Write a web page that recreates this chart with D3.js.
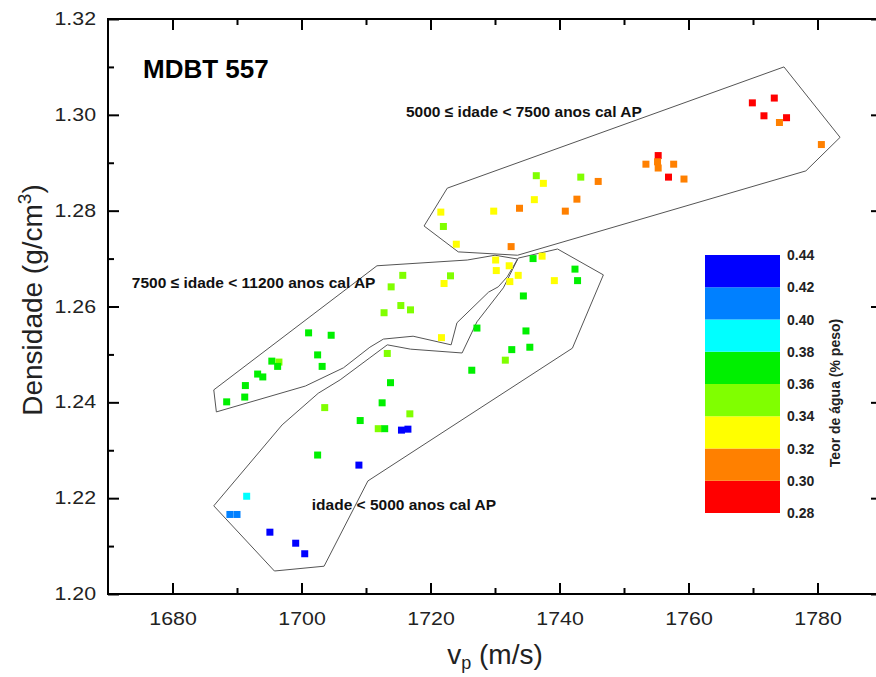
<!DOCTYPE html>
<html>
<head>
<meta charset="utf-8">
<script src="https://cdn.jsdelivr.net/npm/d3@7"></script>
<style>
  body { margin: 0; background: #fff; }
  svg { font-family: "Liberation Sans", Arial, sans-serif; display: block; }
</style>
</head>
<body>
<div id="chart"></div>
<script>
// velocidade (m/s), densidade (g/cm3), teor de agua
var vp = [1769.9, 1773.3, 1771.7, 1775.2, 1774.1, 1780.6, 1755.3, 1755.2, 1753.4, 1755.3,
          1757.7, 1756.9, 1759.3, 1736.4, 1737.5, 1743.3, 1746.0, 1736.1, 1742.7, 1733.8,
          1740.9, 1721.6, 1729.8, 1722.0, 1724.0, 1732.5, 1735.9, 1737.3, 1730.1, 1732.2,
          1742.4, 1730.2, 1733.6, 1732.3, 1739.2, 1742.8, 1715.7, 1723.1, 1722.1, 1713.9,
          1715.4, 1716.9, 1712.8, 1734.4, 1721.7, 1727.2, 1734.8, 1735.4, 1732.6, 1731.6,
          1713.3, 1726.4, 1713.8, 1712.5, 1716.8, 1711.9, 1712.9, 1715.5, 1716.5, 1701.1,
          1704.6, 1702.5, 1703.2, 1695.4, 1696.5, 1696.3, 1693.2, 1694.0, 1691.3, 1691.2,
          1688.4, 1703.6, 1709.1, 1702.5, 1708.9, 1691.5, 1688.9, 1690.0, 1695.1, 1699.1,
          1700.5];
var dens = [1.3025, 1.3035, 1.2998, 1.2994, 1.2984, 1.2938, 1.2915, 1.2902, 1.2897, 1.2889,
            1.2897, 1.2870, 1.2866, 1.2873, 1.2857, 1.2870, 1.2861, 1.2823, 1.2824, 1.2805,
            1.2799, 1.2797, 1.2799, 1.2767, 1.2730, 1.2725, 1.2700, 1.2705, 1.2697, 1.2685,
            1.2678, 1.2675, 1.2665, 1.2652, 1.2654, 1.2654, 1.2665, 1.2664, 1.2648, 1.2641,
            1.2602, 1.2593, 1.2587, 1.2622, 1.2535, 1.2555, 1.2549, 1.2515, 1.2510, 1.2488,
            1.2502, 1.2467, 1.2441, 1.2399, 1.2376, 1.2345, 1.2345, 1.2342, 1.2344, 1.2545,
            1.2540, 1.2499, 1.2475, 1.2486, 1.2484, 1.2475, 1.2459, 1.2453, 1.2435, 1.2411,
            1.2401, 1.2389, 1.2362, 1.2290, 1.2269, 1.2204, 1.2166, 1.2166, 1.2129, 1.2106,
            1.2084];
var teor = [0.29, 0.29, 0.29, 0.29, 0.31, 0.31, 0.29, 0.31, 0.31, 0.31,
            0.31, 0.29, 0.31, 0.35, 0.33, 0.35, 0.31, 0.33, 0.31, 0.31,
            0.31, 0.33, 0.33, 0.35, 0.33, 0.31, 0.37, 0.33, 0.33, 0.33,
            0.37, 0.33, 0.33, 0.33, 0.33, 0.37, 0.35, 0.35, 0.33, 0.35,
            0.35, 0.35, 0.35, 0.37, 0.33, 0.37, 0.37, 0.37, 0.37, 0.35,
            0.35, 0.37, 0.37, 0.37, 0.35, 0.35, 0.37, 0.43, 0.43, 0.37,
            0.37, 0.37, 0.37, 0.37, 0.35, 0.37, 0.37, 0.37, 0.37, 0.37,
            0.37, 0.35, 0.37, 0.37, 0.43, 0.39, 0.41, 0.41, 0.43, 0.43,
            0.43];

// contornos dos grupos de idade
var polyRecente = [[1686.4,1.2184],[1695.8,1.2048],[1703.5,1.2058],[1710.3,1.2236],[1742.0,1.2513],
                   [1746.8,1.2666],[1739.7,1.2720],[1733.6,1.2701],[1731.3,1.2639],[1727.2,1.2568],
                   [1724.9,1.2503],[1716.9,1.2511],[1713.3,1.2520],[1710.6,1.2493],[1706.0,1.2447],
                   [1702.6,1.2419],[1697.0,1.2353]];
var polyMedio = [[1686.4,1.2426],[1686.8,1.2380],[1700.6,1.2434],[1706.5,1.2472],[1710.6,1.2515],
                 [1712.7,1.2532],[1717.3,1.2538],[1723.2,1.2520],[1724.1,1.2566],[1729.0,1.2630],
                 [1730.5,1.2641],[1731.9,1.2662],[1733.5,1.2699],[1730.0,1.2707],[1725.7,1.2697],
                 [1711.7,1.2685]];
var polyAntigo = [[1722.6,1.2847],[1719.0,1.2768],[1724.3,1.2714],[1733.5,1.2707],[1778.2,1.2883],
                  [1783.5,1.2953],[1774.8,1.3100]];

var binEdges = [0.28, 0.30, 0.32, 0.34, 0.36, 0.38, 0.40, 0.42, 0.44];
var binColors = ["#ff0000", "#ff8000", "#ffff00", "#80ff00", "#00f000", "#00ffff", "#0080ff", "#0000ff"];

var margin = {top: 19, left: 108},
    width = 774,
    height = 575;

var svg = d3.select("#chart")
    .append("svg")
    .attr("width", 876)
    .attr("height", 677);

var g = svg.append("g")
    .attr("transform", "translate(" + margin.left + "," + margin.top + ")");

var x = d3.scaleLinear().domain([1670, 1790]).range([0, width]);
var y = d3.scaleLinear().domain([1.20, 1.32]).range([height, 0]);
var color = d3.scaleQuantize().domain([0.28, 0.44]).range(binColors);

// poligonos
var line = d3.line()
    .x(function(d) { return x(d[0]); })
    .y(function(d) { return y(d[1]); })
    .curve(d3.curveLinearClosed);

[polyRecente, polyMedio, polyAntigo].forEach(function(p) {
    g.append("path")
        .attr("d", line(p))
        .attr("fill", "none")
        .attr("stroke", "#555")
        .attr("stroke-width", 1);
});

// pontos
var pts = vp.map(function(v, i) { return {vp: v, dens: dens[i], teor: teor[i]}; });
var s = 7;
g.selectAll("rect.pt")
    .data(pts)
    .enter()
    .append("rect")
    .attr("class", "pt")
    .attr("x", function(d) { return x(d.vp) - s / 2; })
    .attr("y", function(d) { return y(d.dens) - s / 2; })
    .attr("width", s)
    .attr("height", s)
    .attr("fill", function(d) { return color(d.teor); });

// eixos com marcas para dentro
var xMajor = d3.range(1680, 1781, 20),
    xMinor = d3.range(1690, 1791, 20),
    yMajor = d3.range(0, 7).map(function(i) { return +(1.20 + i * 0.02).toFixed(2); }),
    yMinor = d3.range(0, 6).map(function(i) { return +(1.21 + i * 0.02).toFixed(2); });

var stretch = 1.22;

function styleAxis(sel) {
    sel.select(".domain").remove();
    sel.selectAll("line").attr("stroke", "#000").attr("stroke-width", 2);
    sel.selectAll("text").attr("font-size", 17.5).attr("fill", "#222")
        .attr("font-family", "Liberation Sans, Arial, sans-serif");
}

var bottom = g.append("g").attr("transform", "translate(0," + height + ")")
    .call(d3.axisBottom(x).tickValues(xMajor).tickSize(-11).tickPadding(19).tickFormat(d3.format("d")));
styleAxis(bottom);
bottom.selectAll("text").attr("transform", "scale(" + stretch + ",1)");
var bottomMinor = g.append("g").attr("transform", "translate(0," + height + ")")
    .call(d3.axisBottom(x).tickValues(xMinor).tickSize(-6).tickFormat(""));
styleAxis(bottomMinor);
var top_ = g.append("g")
    .call(d3.axisTop(x).tickValues(xMajor).tickSize(-11).tickFormat(""));
styleAxis(top_);
var topMinor = g.append("g")
    .call(d3.axisTop(x).tickValues(xMinor).tickSize(-6).tickFormat(""));
styleAxis(topMinor);

var left = g.append("g")
    .call(d3.axisLeft(y).tickValues(yMajor).tickSize(-11).tickFormat(d3.format(".2f")));
styleAxis(left);
left.selectAll("text")
    .attr("x", -12 / stretch)
    .attr("transform", "scale(" + stretch + ",1)");
var leftMinor = g.append("g")
    .call(d3.axisLeft(y).tickValues(yMinor).tickSize(-6).tickFormat(""));
styleAxis(leftMinor);
var right = g.append("g").attr("transform", "translate(" + width + ",0)")
    .call(d3.axisRight(y).tickValues(yMajor).tickSize(-11).tickFormat(""));
styleAxis(right);
var rightMinor = g.append("g").attr("transform", "translate(" + width + ",0)")
    .call(d3.axisRight(y).tickValues(yMinor).tickSize(-6).tickFormat(""));
styleAxis(rightMinor);

g.append("rect")
    .attr("width", width)
    .attr("height", height)
    .attr("fill", "none")
    .attr("stroke", "#000")
    .attr("stroke-width", 2);

// titulos
g.append("text")
    .attr("x", 35).attr("y", 59)
    .attr("font-size", 26).attr("font-weight", "bold")
    .text("MDBT 557");

var labels = [
    {t: "5000 \u2264 idade < 7500 anos cal AP", vx: 1716.2, vy: 1.2995},
    {t: "7500 \u2264 idade < 11200 anos cal AP", vx: 1673.7, vy: 1.2639},
    {t: "idade < 5000 anos cal AP", vx: 1701.6, vy: 1.2175}
];
g.selectAll("text.grp")
    .data(labels)
    .enter()
    .append("text")
    .attr("class", "grp")
    .attr("x", function(d) { return x(d.vx); })
    .attr("y", function(d) { return y(d.vy); })
    .attr("font-size", 15.5)
    .attr("font-weight", "bold")
    .attr("fill", "#111")
    .text(function(d) { return d.t; });

var xl = svg.append("text")
    .attr("x", 495).attr("y", 664)
    .attr("text-anchor", "middle")
    .attr("font-size", 28)
    .attr("fill", "#222");
xl.append("tspan").text("v");
xl.append("tspan").attr("font-size", 18).attr("dy", 5).text("p");
xl.append("tspan").attr("dy", -5).text(" (m/s)");

var yl = svg.append("text")
    .attr("transform", "translate(42,300) rotate(-90)")
    .attr("text-anchor", "middle")
    .attr("font-size", 28)
    .attr("fill", "#222");
yl.append("tspan").text("Densidade (g/cm");
yl.append("tspan").attr("font-size", 19).attr("dy", -11).text("3");
yl.append("tspan").attr("dy", 11).text(")");

// barra de cores
var cb = svg.append("g");
var cy = d3.scaleLinear().domain([0.28, 0.44]).range([513, 255]);
cb.selectAll("rect")
    .data(d3.range(binColors.length))
    .enter()
    .append("rect")
    .attr("x", 705)
    .attr("y", function(i) { return cy(binEdges[i + 1]); })
    .attr("width", 75)
    .attr("height", function(i) { return cy(binEdges[i]) - cy(binEdges[i + 1]); })
    .attr("fill", function(i) { return binColors[i]; });
cb.selectAll("text")
    .data(binEdges)
    .enter()
    .append("text")
    .attr("x", 787)
    .attr("y", function(d) { return cy(d) + 5; })
    .attr("font-size", 14)
    .attr("font-weight", "bold")
    .attr("fill", "#222")
    .text(function(d) { return d.toFixed(2); });
svg.append("text")
    .attr("transform", "translate(840,393) rotate(-90)")
    .attr("text-anchor", "middle")
    .attr("font-size", 14)
    .attr("font-weight", "bold")
    .attr("fill", "#222")
    .text("Teor de \u00e1gua (% peso)");
</script>
</body>
</html>
